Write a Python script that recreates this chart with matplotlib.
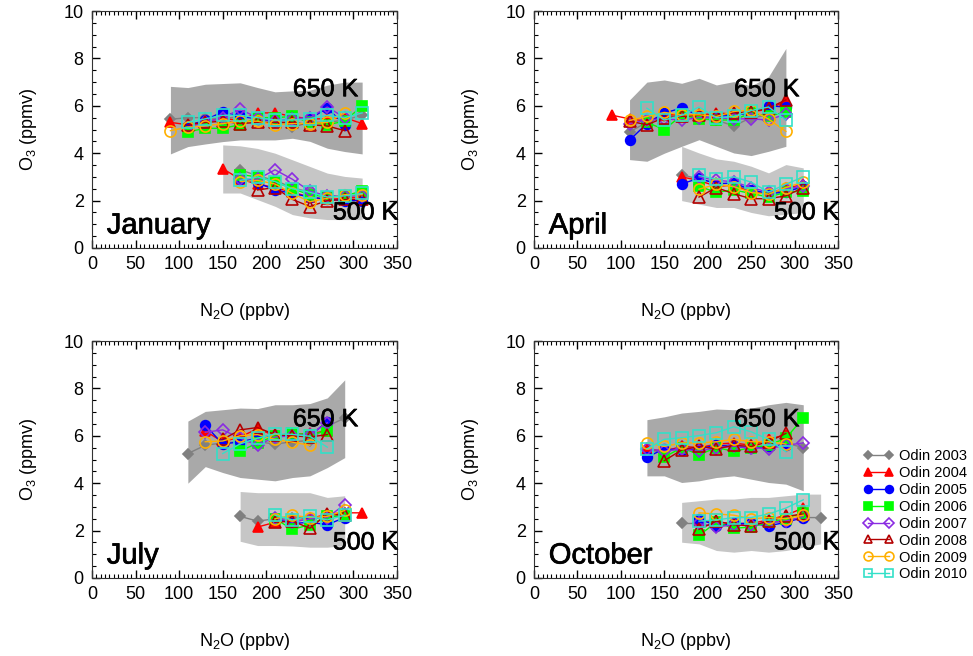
import numpy as np
import matplotlib.pyplot as plt
import matplotlib.patheffects as pe
from matplotlib.ticker import MultipleLocator

nan = np.nan
plt.rcParams['font.family'] = ['Liberation Sans', 'DejaVu Sans']
plt.rcParams['mathtext.fontset'] = 'custom'
plt.rcParams['mathtext.rm'] = 'Liberation Sans'

years = ['Odin 2003', 'Odin 2004', 'Odin 2005', 'Odin 2006',
         'Odin 2007', 'Odin 2008', 'Odin 2009', 'Odin 2010']
colors = ['#808080', '#ff0000', '#0000ff', '#00ff00',
          '#8a2be2', '#b40000', '#ffb000', '#33e0c8']
markers = ['D', '^', 'o', 's', 'D', '^', 'o', 's']
filled = [True, True, True, True, False, False, False, False]
msizes = [5, 7, 7, 7, 6.5, 8, 8, 8]

# ---- January ----
jan_x650 = [90, 110, 130, 150, 170, 190, 210, 230, 250, 270, 290, 310]
jan_650 = [
    [5.43, 5.5, 5.5, 5.45, 5.55, 5.5, 5.4, 5.1, 5.3, 5.3, 5.4, 5.6],
    [5.3, 5.2, 5.35, 5.45, 5.4, 5.7, 5.7, 5.55, 5.45, 5.45, 5.5, 5.25],
    [nan, 5.15, 5.4, 5.75, 5.55, 5.45, 5.35, 5.45, 5.45, 5.9, 5.2, nan],
    [nan, 4.9, 5.05, 5.05, 5.2, 5.5, 5.5, 5.55, 5.3, 5.2, 5.35, 6.0],
    [nan, 5.1, 5.3, 5.5, 5.85, 5.5, 5.35, 5.45, 5.5, 5.95, 5.5, nan],
    [nan, 5.2, 5.3, 5.35, 5.25, 5.3, 5.3, 5.3, 5.2, 5.15, 4.95, nan],
    [4.95, 5.1, 5.15, 5.25, 5.35, 5.35, 5.2, 5.25, 5.25, 5.3, 5.7, nan],
    [nan, 5.3, 5.45, 5.6, 5.6, 5.5, 5.4, 5.4, 5.45, 5.6, 5.5, 5.7],
]
jan_band650_hi = [6.82, 6.77, 6.91, 6.94, 6.97, 6.77, 6.59, 6.63, 6.66, 6.87, 7.0, 7.0]
jan_band650_lo = [3.97, 4.28, 4.39, 4.49, 4.56, 4.56, 4.56, 4.63, 4.5, 4.21, 4.07, 3.97]
jan_x500 = [150, 170, 190, 210, 230, 250, 270, 290, 310]
jan_500 = [
    [nan, 3.3, 3.05, 2.85, 2.55, 2.35, 2.2, 2.15, 2.25],
    [3.35, 2.9, 2.7, 2.55, 2.35, 2.15, 2.05, 2.1, 2.15],
    [nan, 2.9, 2.75, 2.45, 2.3, 2.15, 2.05, 2.0, 2.0],
    [nan, 3.1, 3.0, 2.8, 2.5, 2.25, 2.15, 2.2, 2.4],
    [nan, 2.9, 2.9, 3.3, 2.9, 2.4, 2.2, 2.2, 2.2],
    [nan, nan, 2.45, 2.55, 2.05, 1.75, 2.0, 2.05, 2.05],
    [nan, 2.8, 2.85, 2.7, 2.3, 1.95, 2.1, 2.25, 2.25],
    [nan, 2.85, 3.0, 2.8, 2.5, 2.35, 2.15, 2.2, 2.3],
]
jan_band500_hi = [4.35, 4.31, 4.2, 4.0, 3.72, 3.44, 3.16, 3.02, 2.95]
jan_band500_lo = [2.32, 2.32, 2.04, 1.76, 1.41, 1.27, 1.2, 1.2, 1.2]

# ---- April ----
apr_x650 = [90, 110, 130, 150, 170, 190, 210, 230, 250, 270, 290]
apr_650 = [
    [nan, 4.9, 5.3, 5.55, 5.6, 5.6, 5.4, 5.15, 5.5, 5.6, nan],
    [5.6, 5.45, 5.35, 5.6, 5.65, 5.6, 5.7, 5.65, 5.75, 5.85, 6.2],
    [nan, 4.55, 5.25, 5.7, 5.9, 5.6, 5.55, 5.6, 5.7, 6.0, 5.95],
    [nan, nan, 5.3, 5.0, 5.6, 5.45, 5.4, 5.4, 5.7, 5.55, 5.75],
    [nan, 5.25, 5.4, 5.45, 5.4, 5.5, 5.5, 5.45, 5.45, 5.4, 5.65],
    [nan, 5.35, 5.2, 5.5, 5.55, 5.6, 5.6, 5.7, 5.75, 5.9, 6.25],
    [nan, 5.38, 5.55, 5.72, 5.62, 5.62, 5.55, 5.76, 5.83, 5.44, 4.92],
    [nan, nan, 5.9, 5.4, 5.6, 5.95, 5.5, 5.55, 5.8, 5.95, 5.4],
]
apr_xband650 = [110, 130, 150, 170, 190, 210, 230, 250, 270, 290]
apr_band650_hi = [6.25, 7.0, 7.09, 6.95, 7.16, 6.88, 7.02, 6.84, 7.23, 8.42]
apr_band650_lo = [3.73, 3.66, 4.0, 4.29, 4.57, 4.29, 4.01, 3.9, 4.08, 4.29]
apr_x500 = [170, 190, 210, 230, 250, 270, 290, 310]
apr_500 = [
    [3.1, 2.9, 2.75, 2.7, 2.4, 2.25, 2.45, 2.55],
    [3.0, 2.85, 2.6, 2.65, 2.35, 2.3, 2.5, 2.7],
    [2.7, 2.95, 2.7, 2.75, 2.45, 2.3, 2.35, 2.6],
    [nan, 2.6, 2.35, 2.45, 2.3, 2.15, 2.35, 2.4],
    [nan, 3.0, 2.85, 2.8, 2.55, 2.35, 2.5, 2.6],
    [nan, 2.15, 2.55, 2.29, 2.08, 2.08, 2.2, 2.55],
    [nan, 2.48, 2.69, 2.59, 2.34, 2.27, 2.55, 2.78],
    [nan, 3.06, 2.9, 3.0, 2.78, 2.36, 2.69, 3.0],
]
apr_band500_hi = [4.29, 4.01, 3.76, 3.66, 3.45, 3.17, 3.52, 3.38]
apr_band500_lo = [2.0, 1.85, 1.71, 1.71, 1.5, 1.36, 1.42, 1.5]

# ---- July ----
jul_x650 = [110, 130, 150, 170, 190, 210, 230, 250, 270, 290]
jul_650 = [
    [5.25, 5.6, 5.7, 5.75, 5.75, 5.65, 5.75, 5.8, 6.4, 6.75],
    [nan, 6.2, 5.75, 5.95, 6.3, 6.0, 6.05, 6.1, 6.2, nan],
    [nan, 6.45, 5.65, 5.75, 5.9, 6.05, 6.0, 6.0, 6.6, nan],
    [nan, nan, nan, 5.35, 5.7, 6.0, 6.1, 6.05, 6.2, nan],
    [nan, 6.15, 6.25, 5.9, 5.6, 5.95, 6.0, 6.05, 6.55, nan],
    [nan, nan, 5.85, 6.25, 6.35, 6.05, 6.0, 5.95, 6.05, nan],
    [nan, 5.75, 5.78, 6.0, 6.05, 5.85, 5.73, 5.6, nan, nan],
    [nan, nan, 5.25, 5.66, 5.9, 6.08, 6.06, 5.98, 5.52, nan],
]
jul_band650_hi = [6.62, 7.03, 7.1, 7.17, 7.15, 7.31, 7.31, 7.36, 7.6, 8.36]
jul_band650_lo = [4.0, 4.7, 4.45, 4.24, 4.17, 4.1, 4.24, 4.31, 4.66, 5.08]
jul_x500 = [170, 190, 210, 230, 250, 270, 290, 310]
jul_500 = [
    [2.6, 2.4, 2.5, 2.55, 2.55, 2.5, 2.75, nan],
    [nan, 2.15, 2.35, 2.5, 2.5, 2.7, 2.75, 2.75],
    [nan, nan, 2.5, 2.3, 2.35, 2.25, 2.55, nan],
    [nan, nan, 2.5, 2.05, 2.25, 2.6, 2.6, nan],
    [nan, nan, 2.55, 2.35, 2.5, 2.55, 3.1, nan],
    [nan, nan, 2.35, 2.4, 2.1, 2.7, 2.65, nan],
    [nan, nan, 2.5, 2.65, 2.55, 2.6, 2.85, nan],
    [nan, nan, 2.65, 2.45, 2.6, 2.45, 2.65, nan],
]
jul_xband500 = [170, 190, 210, 230, 250, 270, 290]
jul_band500_hi = [3.65, 3.6, 3.6, 3.6, 3.6, 3.4, 3.47]
jul_band500_lo = [1.55, 1.37, 1.37, 1.35, 1.3, 1.3, 1.37]

# ---- October ----
oct_x650 = [130, 150, 170, 190, 210, 230, 250, 270, 290, 310]
oct_650 = [
    [5.4, 5.3, 5.55, 5.5, 5.55, 5.65, 5.6, 5.5, 5.7, 5.5],
    [5.45, 5.35, 5.55, 5.5, 5.65, 5.7, 5.6, 5.85, 6.05, nan],
    [5.1, 5.45, 5.4, 5.45, 5.6, 5.55, 5.5, 5.55, 5.6, nan],
    [nan, 5.1, 5.5, 5.2, 5.5, 5.35, 5.5, 5.6, 5.9, 6.75],
    [5.45, 5.35, 5.45, 5.35, 5.5, 5.55, 5.5, 5.45, 5.6, 5.7],
    [nan, 4.95, 5.4, 5.55, 5.45, 5.6, 5.55, 5.75, 6.1, nan],
    [5.7, 5.55, 5.7, 5.7, 5.75, 5.85, 5.75, 5.75, 5.65, nan],
    [5.45, 5.85, 5.92, 6.01, 6.13, 6.38, 6.17, 5.85, 5.33, nan],
]
oct_band650_hi = [6.68, 6.8, 6.96, 7.03, 7.13, 7.1, 7.17, 7.31, 7.41, 7.31]
oct_band650_lo = [4.31, 4.31, 4.03, 4.1, 4.24, 4.31, 4.17, 4.03, 3.96, 3.68]
oct_x500 = [170, 190, 210, 230, 250, 270, 290, 310, 330]
oct_500 = [
    [2.3, 2.3, 2.2, 2.25, 2.25, 2.3, 2.4, 2.55, 2.55],
    [nan, 2.4, 2.35, 2.3, 2.3, 2.45, 2.65, 2.95, nan],
    [nan, 2.5, 2.2, 2.3, 2.3, 2.2, 2.35, 2.55, nan],
    [nan, 1.8, 2.35, 2.1, 2.15, 2.35, 2.5, 2.75, nan],
    [nan, 2.3, 2.15, 2.25, 2.25, 2.35, 2.4, 2.6, nan],
    [nan, 2.05, 2.4, 2.25, 2.2, 2.4, 2.6, 2.7, nan],
    [nan, 2.75, 2.7, 2.65, 2.5, 2.55, 2.5, 2.65, nan],
    [nan, 2.4, 2.45, 2.55, 2.55, 2.7, 2.95, 3.3, nan],
]
oct_band500_hi = [3.19, 3.26, 3.33, 3.33, 3.4, 3.4, 3.47, 3.54, 3.54]
oct_band500_lo = [1.51, 1.44, 1.16, 1.09, 1.16, 1.09, 1.16, 1.3, 1.44]

panels = [
    ('January', jan_x650, jan_650, jan_x650, jan_band650_hi, jan_band650_lo,
     jan_x500, jan_500, jan_x500, jan_band500_hi, jan_band500_lo),
    ('April', apr_x650, apr_650, apr_xband650, apr_band650_hi, apr_band650_lo,
     apr_x500, apr_500, apr_x500, apr_band500_hi, apr_band500_lo),
    ('July', jul_x650, jul_650, jul_x650, jul_band650_hi, jul_band650_lo,
     jul_x500, jul_500, jul_xband500, jul_band500_hi, jul_band500_lo),
    ('October', oct_x650, oct_650, oct_x650, oct_band650_hi, oct_band650_lo,
     oct_x500, oct_500, oct_x500, oct_band500_hi, oct_band500_lo),
]

W, H = 973, 656
fig = plt.figure(figsize=(W / 100, H / 100), dpi=100)
boxes = [(92, 11, 397, 248), (534, 11, 838, 248),
         (92, 341, 397, 578), (534, 341, 838, 578)]
bold = [pe.withStroke(linewidth=0.5, foreground='black')]

handles = []
for (name, x650, d650, xb650, hi650, lo650, x500, d500, xb500, hi500, lo500), b in zip(panels, boxes):
    ax = fig.add_axes([b[0] / W, 1 - b[3] / H, (b[2] - b[0]) / W, (b[3] - b[1]) / H])
    ax.fill_between(xb650, lo650, hi650, color='#a9a9a9', lw=0, zorder=1)
    ax.fill_between(xb500, lo500, hi500, color='#c6c6c6', lw=0, zorder=1)
    for xs, data in ((x650, d650), (x500, d500)):
        for i in range(8):
            mfc = colors[i] if filled[i] else 'none'
            h, = ax.plot(xs, data[i], color=colors[i], lw=1, marker=markers[i],
                         ms=msizes[i], mfc=mfc, mec=colors[i], mew=1.2, zorder=3 + i)
            if len(handles) < 8:
                handles.append(h)
    ax.text(17, 0.95, name, fontsize=21, ha='left', va='center', zorder=20, path_effects=bold)
    ax.text(268, 6.7, '650 K', fontsize=18, ha='center', va='center', zorder=20, path_effects=bold)
    ax.text(314, 1.5, '500 K', fontsize=18, ha='center', va='center', zorder=20, path_effects=bold)
    ax.set_xlim(0, 350)
    ax.set_ylim(0, 10)
    ax.xaxis.set_major_locator(MultipleLocator(50))
    ax.xaxis.set_minor_locator(MultipleLocator(5))
    ax.yaxis.set_major_locator(MultipleLocator(2))
    ax.yaxis.set_minor_locator(MultipleLocator(0.5))
    ax.tick_params(which='both', direction='in', top=True, right=True, labelsize=13)
    ax.tick_params(which='major', length=6, width=1, pad=6)
    ax.tick_params(which='minor', length=3, width=0.8)
    for s in ax.spines.values():
        s.set_color('#333333')
    ax.set_xlabel('N$_{\\mathregular{2}}$O (ppbv)', fontsize=13, labelpad=20)
    ax.set_ylabel('O$_{\\mathregular{3}}$ (ppmv)', fontsize=13, labelpad=18)

fig.legend(handles, years, loc='upper left', bbox_to_anchor=(864 / W, 1 - 449 / H),
           frameon=False, fontsize=10.5, numpoints=2, handlelength=2.0, markerscale=0.8,
           handletextpad=0.4, labelspacing=0.2, borderpad=0, borderaxespad=0)

fig.savefig('out.png', dpi=100)
